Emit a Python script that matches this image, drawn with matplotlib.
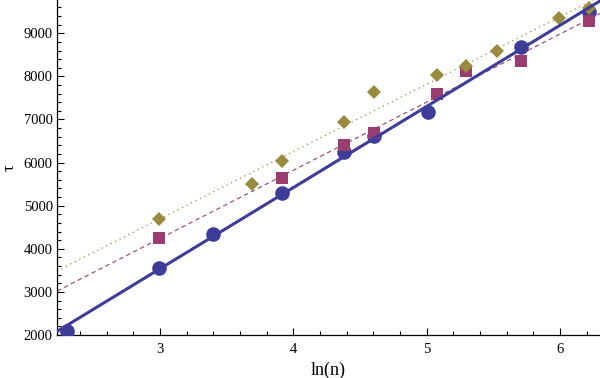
import numpy as np
import matplotlib
matplotlib.use('Agg')
import matplotlib.pyplot as plt
from matplotlib.ticker import MultipleLocator

plt.rcParams['font.family'] = ['Liberation Serif', 'DejaVu Serif']

# data (x = ln(n), y = tau)
x_circ = [2.303, 2.996, 3.401, 3.912, 4.382, 4.605, 5.011, 5.704, 6.215]
y_circ = [2093, 3555, 4350, 5300, 6255, 6620, 7185, 8685, 9500]
x_sq = [2.996, 3.912, 4.382, 4.605, 5.075, 5.298, 5.704, 6.215]
y_sq = [4245, 5643, 6405, 6694, 7592, 8125, 8357, 9292]
x_dia = [2.996, 3.689, 3.912, 4.382, 4.605, 5.075, 5.298, 5.525, 5.991, 6.215]
y_dia = [4691, 5503, 6037, 6935, 7631, 8032, 8241, 8580, 9348, 9580]

c_blue = '#3d3d99'
c_purp = '#993d71'
c_olive = '#998b3d'

fig = plt.figure(figsize=(6, 3.78), dpi=100)
ax = fig.add_axes([57/600, 43/378, 1 - 57/600, 1 - 43/378])
xl = (2.2273, 6.30)
xx = np.array(xl)

for xs, ys, c, ls, lw, z in [(x_circ, y_circ, c_blue, '-', 2.2, 6),
                             (x_sq, y_sq, c_purp, (0, (4, 3)), 0.8, 2),
                             (x_dia, y_dia, c_olive, (0, (1, 3)), 0.9, 2)]:
    p = np.polyfit(xs, ys, 1)
    ax.plot(xx, np.polyval(p, xx), color=c, ls=ls, lw=lw, zorder=z)

ax.plot(x_circ, y_circ, 'o', color=c_blue, ms=10.5, mew=0, zorder=3)
ax.plot(x_sq, y_sq, 's', color=c_purp, ms=8, mew=0, zorder=4)
ax.plot(x_dia, y_dia, 'D', color=c_olive, ms=7.5, mew=0, zorder=5)

ax.set_xlim(*xl)
ax.set_ylim(2000, 9772)
ax.spines['top'].set_visible(False)
ax.spines['right'].set_visible(False)
ax.spines['left'].set_linewidth(0.9)
ax.spines['bottom'].set_linewidth(0.9)
ax.xaxis.set_major_locator(MultipleLocator(1))
ax.xaxis.set_minor_locator(MultipleLocator(0.2))
ax.yaxis.set_major_locator(MultipleLocator(1000))
ax.yaxis.set_minor_locator(MultipleLocator(200))
ax.tick_params(which='both', direction='in', labelsize=10.5, width=0.8, pad=3)
ax.tick_params(axis='x', which='both', pad=6)
ax.tick_params(which='major', length=5)
ax.tick_params(which='minor', length=3)

ax.set_xlabel('ln(n)', fontsize=13, va='center')
ax.xaxis.set_label_coords(0.5, -35/335)
ax.set_ylabel('τ', fontsize=12, va='center')
ax.yaxis.set_label_coords(-47/543, 0.5)

fig.savefig('out.png', dpi=100)
